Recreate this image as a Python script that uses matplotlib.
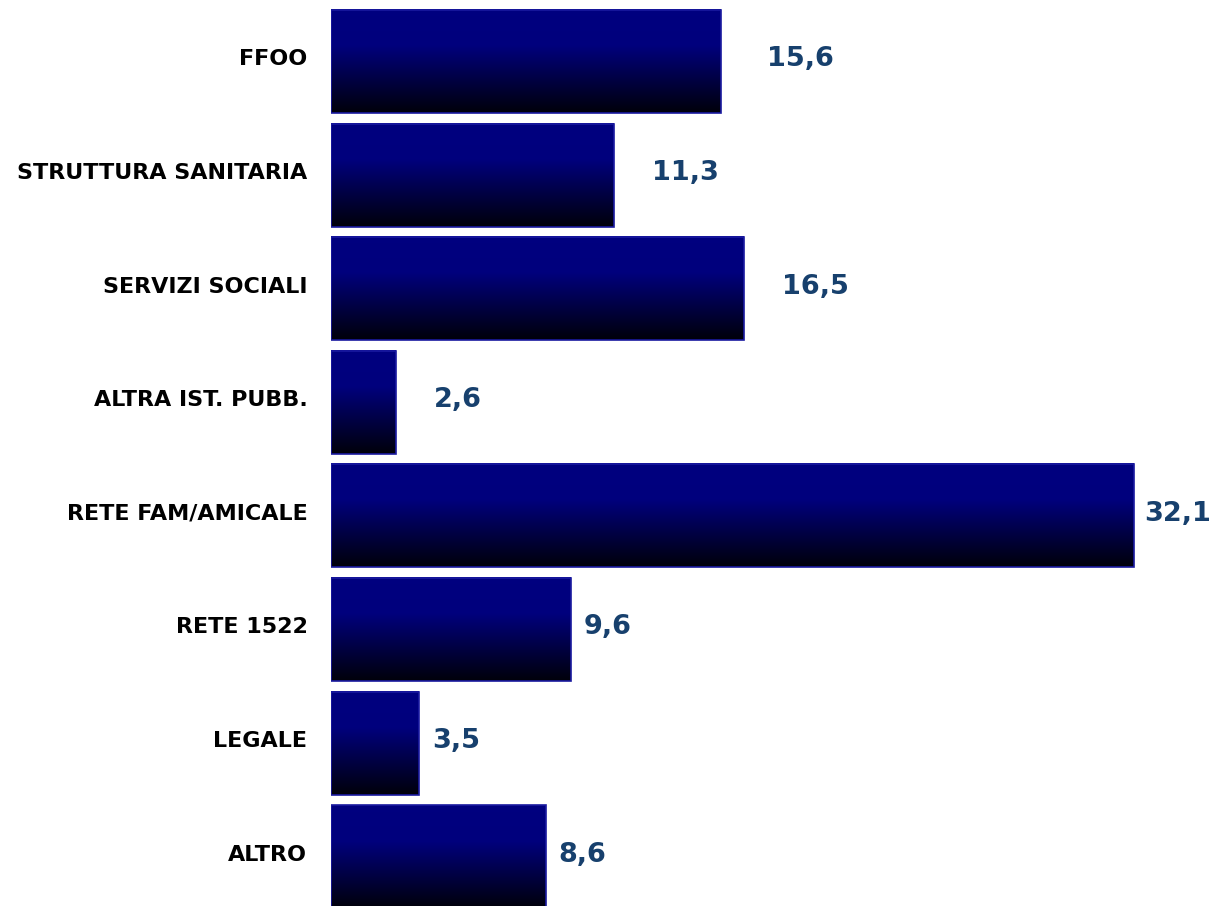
import numpy as np
import matplotlib
matplotlib.use("Agg")
import matplotlib.pyplot as plt
from matplotlib.colors import LinearSegmentedColormap

categories = ["FFOO", "STRUTTURA SANITARIA", "SERVIZI SOCIALI", "ALTRA IST. PUBB.",
              "RETE FAM/AMICALE", "RETE 1522", "LEGALE", "ALTRO"]
values = [15.6, 11.3, 16.5, 2.6, 32.1, 9.6, 3.5, 8.6]
value_labels = ["15,6", "11,3", "16,5", "2,6", "32,1", "9,6", "3,5", "8,6"]
# gap between bar end and its label, in points (as in the original)
label_pads = [33, 28, 28, 27, 8, 9, 10, 9]

grad = LinearSegmentedColormap.from_list(
    "navy", [(0.0, (0, 0, 0.5)), (0.35, (0, 0, 0.49)), (1.0, (0, 0, 0.04))])

fig = plt.figure(figsize=(12.16, 9.06), dpi=100)
ax = fig.add_axes([331 / 1216, 0, 885 / 1216, 1])

y = np.arange(len(categories))
bars = ax.barh(y, values, height=0.907, color="none", edgecolor="#1a1aa0", linewidth=1.2, zorder=3)

g = np.linspace(0, 1, 256).reshape(-1, 1)
for b in bars:
    x0, y0 = b.get_x(), b.get_y()
    w, h = b.get_width(), b.get_height()
    ax.imshow(g, cmap=grad, aspect="auto", extent=(x0, x0 + w, y0 + h, y0),
              interpolation="bicubic", zorder=2)

for yi, v, lab, pad in zip(y, values, value_labels, label_pads):
    ax.annotate(lab, xy=(v, yi), xytext=(pad, 1.5), textcoords="offset points",
                ha="left", va="center", fontsize=19.5, fontweight="bold",
                color="#17406d", family="DejaVu Sans")

# category labels, right aligned left of the bars
for yi, cat in zip(y, categories):
    ax.annotate(cat, xy=(0, yi), xytext=(-17, 1.5), textcoords="offset points",
                ha="right", va="center", fontsize=16, fontweight="bold",
                color="black", family="DejaVu Sans", annotation_clip=False)

ax.set_xlim(0, 35.4)
ax.set_ylim(7.434, -0.541)
ax.set_xticks([])
ax.set_yticks([])
for s in ax.spines.values():
    s.set_visible(False)

fig.savefig("out.png", dpi=100)
